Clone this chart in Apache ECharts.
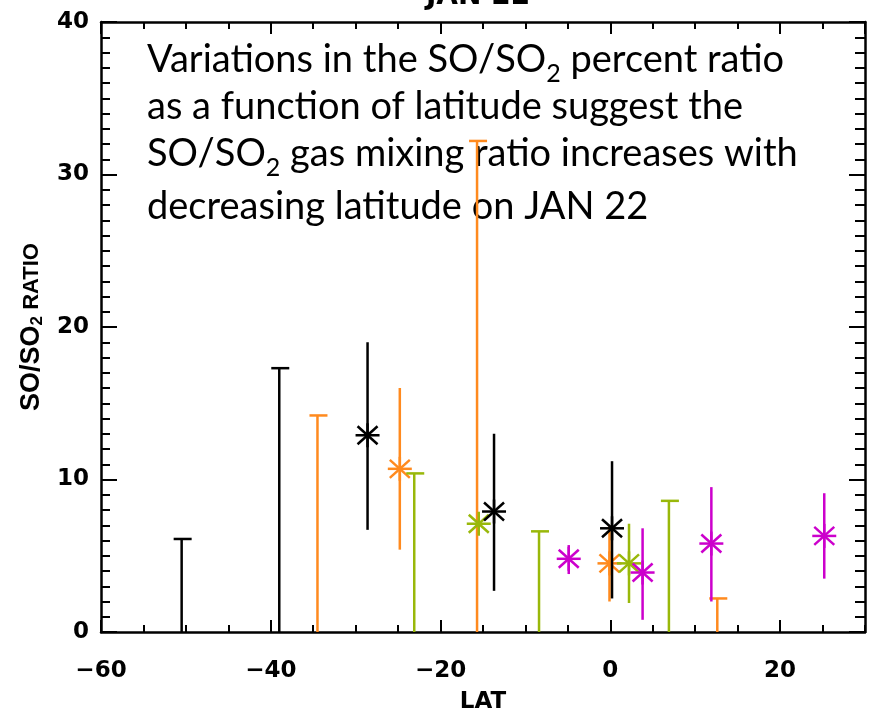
<!DOCTYPE html>
<html><head><meta charset="utf-8">
<script src="https://cdn.jsdelivr.net/npm/echarts@6/dist/echarts.min.js"></script>
<style>html,body{margin:0;padding:0;background:#fff}#c{width:875px;height:721px}</style>
</head><body><div id="c"></div>
<script>
// ---- data ----
const latTickLabels = ['-60', '-40', '-20', '0', '20'];
const ratioTickLabels = ['0', '10', '20', '30', '40'];
// measured points: [lat, ratio, errLow, errHigh]
const blackPoints = [[-28.6, 12.9, 6.7, 19.0], [-13.7, 7.9, 2.7, 13.0], [0.2, 6.8, 2.2, 11.2]];
const orangePoints = [[-24.8, 10.7, 5.4, 16.0], [-0.1, 4.5, 2.0, 7.0]];
const greenPoints = [[-15.5, 7.1, 7.1, 7.1], [2.2, 4.5, 1.9, 7.1]];
const magentaPoints = [[-4.9, 4.8, 3.8, 5.7], [3.8, 3.9, 0.8, 6.8], [11.9, 5.8, 2.0, 9.5], [25.2, 6.3, 3.5, 9.1]];
// upper limits: [lat, ratio]
const blackLimits = [[-50.5, 6.1], [-39.0, 17.3]];
const orangeLimits = [[-34.5, 14.2], [-15.7, 32.2], [12.6, 2.2]];
const greenLimits = [[-23.1, 10.4], [-8.4, 6.6], [6.9, 8.6]];
const noteLines = [
  ['Variations in the SO/SO', '2', ' percent ratio'],
  ['as a function of latitude suggest the'],
  ['SO/SO', '2', ' gas mixing ratio increases with'],
  ['decreasing latitude on JAN 22']
];

const COLORS = {black: '#000000', orange: '#ff8a1e', green: '#99b80a', magenta: '#cc00cc'};
const LW = 2.5;

function pointRender(color) {
  return function (params, api) {
    const x = api.value(0), y = api.value(1), lo = api.value(2), hi = api.value(3);
    const c = api.coord([x, y]), pl = api.coord([x, lo]), ph = api.coord([x, hi]);
    const st = {stroke: color, lineWidth: LW};
    const r = 12, dx = 10, dy = 9;
    const seg = (x1, y1, x2, y2) => ({type: 'line', shape: {x1, y1, x2, y2}, style: st});
    return {type: 'group', children: [
      seg(pl[0], pl[1], ph[0], ph[1]),
      seg(c[0] - r, c[1], c[0] + r, c[1]),
      seg(c[0], c[1] - r, c[0], c[1] + r),
      seg(c[0] - dx, c[1] - dy, c[0] + dx, c[1] + dy),
      seg(c[0] - dx, c[1] + dy, c[0] + dx, c[1] - dy)
    ]};
  };
}
function limitRender(color) {
  return function (params, api) {
    const x = api.value(0), y = api.value(1);
    const p0 = api.coord([x, 0]), p1 = api.coord([x, y]);
    const st = {stroke: color, lineWidth: LW};
    return {type: 'group', children: [
      {type: 'line', shape: {x1: p0[0], y1: p0[1], x2: p1[0], y2: p1[1]}, style: st},
      {type: 'line', shape: {x1: p1[0] - 8, y1: p1[1], x2: p1[0] + 10, y2: p1[1]}, style: st}
    ]};
  };
}
function mk(name, data, render) {
  return {name, type: 'custom', xAxisIndex: 0, yAxisIndex: 0, clip: false, data, renderItem: render, silent: true};
}

const tickFont = {fontFamily: 'DejaVu Sans', fontWeight: 'bold', fontSize: 23, color: '#000'};
const lineSt = {color: '#000', width: 2.5};
const tickSt = {color: '#000', width: 2};
function xAx(pos, interval, len, main) {
  return {type: 'value', position: pos, min: -60, max: 30, interval,
    axisLine: {show: main, lineStyle: lineSt, onZero: false},
    axisTick: {show: true, inside: true, length: len, lineStyle: tickSt},
    axisLabel: {show: main && pos === 'bottom', margin: 28, showMaxLabel: false, ...tickFont,
      formatter: v => { const i = latTickLabels.indexOf(String(v)); return i < 0 ? '' : latTickLabels[i].replace('-', '\u2212'); }},
    splitLine: {show: false}};
}
function yAx(pos, interval, len, main) {
  return {type: 'value', position: pos, min: 0, max: 40, interval,
    axisLine: {show: main, lineStyle: lineSt, onZero: false},
    axisTick: {show: true, inside: true, length: len, lineStyle: tickSt},
    axisLabel: {show: main && pos === 'left', margin: 12, ...tickFont,
      formatter: v => { const i = ratioTickLabels.indexOf(String(v)); return i < 0 ? '' : ratioTickLabels[i]; }},
    splitLine: {show: false}};
}
const xAxes = [xAx('bottom', 20, 12, true), xAx('bottom', 5, 7, false), xAx('top', 20, 12, true), xAx('top', 5, 7, false)];
Object.assign(xAxes[0], {name: 'LAT', nameLocation: 'middle', nameGap: 59,
  nameTextStyle: {fontFamily: 'DejaVu Sans', fontWeight: 'bold', fontSize: 23, color: '#000'}});
const yAxes = [yAx('left', 10, 16, true), yAx('left', 1, 9, false), yAx('right', 10, 16, true), yAx('right', 1, 10, false)];
Object.assign(yAxes[0], {name: '{a|SO/SO}{s|2}{r| RATIO}', nameLocation: 'middle', nameGap: 54,
  nameTextStyle: {color: '#000', rich: {
    a: {fontFamily: 'Liberation Sans', fontWeight: 'bold', fontSize: 27, color: '#000'},
    s: {fontFamily: 'Liberation Sans', fontWeight: 'bold', fontSize: 17, color: '#000', padding: [12, 0, 0, 0]},
    r: {fontFamily: 'Liberation Sans', fontWeight: 'bold', fontSize: 22, color: '#000'}
  }}});

// annotation text layout
const NOTE_FONT = 'Lato';
const NOTE_SIZE = 38, SUB_SIZE = 25;
const cv = document.createElement('canvas').getContext('2d');
function w(t, s) { cv.font = s + 'px ' + NOTE_FONT; return cv.measureText(t).width; }
const baselines = [72, 119, 166, 219];
const graphics = [];
noteLines.forEach((parts, li) => {
  let x = 147;
  parts.forEach((t, pi) => {
    const sub = (parts.length === 3 && pi === 1);
    const size = sub ? SUB_SIZE : NOTE_SIZE;
    const y = sub ? baselines[li] + 10 - 0.82 * size : baselines[li] - 0.82 * size;
    graphics.push({type: 'text', x: x, y: y, silent: true,
      style: {text: t, fill: '#000', font: size + 'px ' + NOTE_FONT, verticalAlign: 'top'}});
    x += w(t, size);
  });
});
// cropped heading at the very top
graphics.push({type: 'text', x: 478, y: 11, silent: true,
  style: {text: 'JAN 22', fill: '#000', font: 'bold 28px DejaVu Sans', align: 'center', verticalAlign: 'bottom'}});

const chart = echarts.init(document.getElementById('c'), null, {renderer: 'canvas'});
chart.setOption({
  animation: false,
  backgroundColor: '#fff',
  grid: {left: 101, right: 10, top: 22, bottom: 89, containLabel: false},
  xAxis: xAxes,
  yAxis: yAxes,
  graphic: graphics,
  series: [
    mk('orangeLim', orangeLimits, limitRender(COLORS.orange)),
    mk('orangePts', orangePoints, pointRender(COLORS.orange)),
    mk('greenLim', greenLimits, limitRender(COLORS.green)),
    mk('greenPts', greenPoints, pointRender(COLORS.green)),
    mk('blackLim', blackLimits, limitRender(COLORS.black)),
    mk('blackPts', blackPoints, pointRender(COLORS.black)),
    mk('magentaPts', magentaPoints, pointRender(COLORS.magenta))
  ]
});
</script></body></html>
